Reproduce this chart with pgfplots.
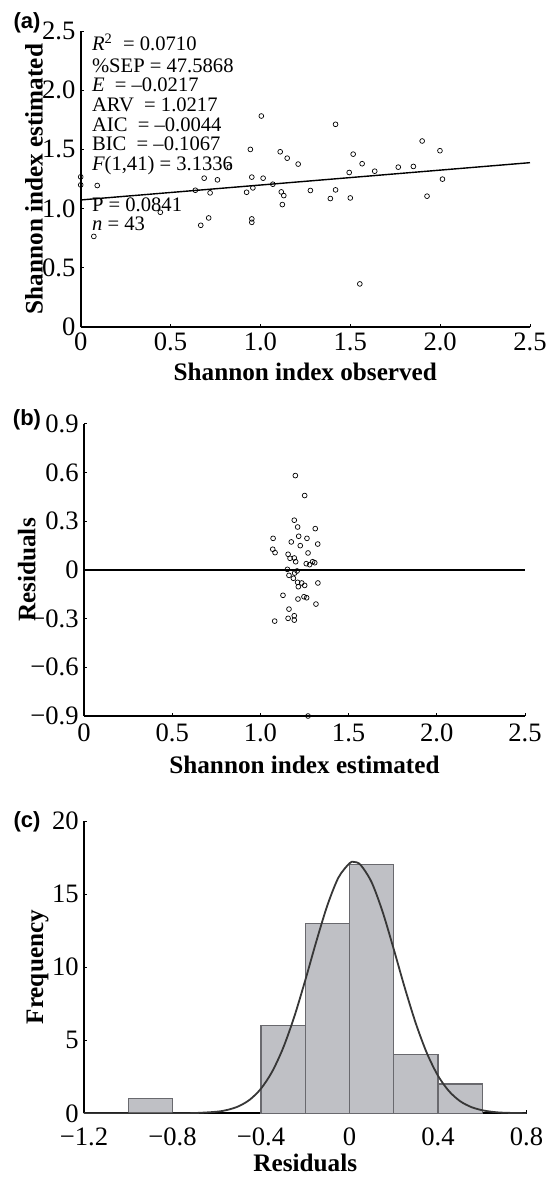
\documentclass[border=0pt]{standalone}
\usepackage{fontspec}
\setmainfont{Liberation Serif}
\newfontfamily\panelfont{Liberation Sans}
\usepackage{pgfplots}
\pgfplotsset{compat=1.18}
\usepackage{pgfplotstable}

\definecolor{barfill}{RGB}{191,192,197}
\definecolor{baredge}{RGB}{105,105,110}
\definecolor{curvecol}{RGB}{55,55,55}

\pgfplotstableread{
x y
0.000 1.268
0.000 1.200
0.092 1.195
0.073 0.765
0.443 0.969
0.638 1.155
0.687 1.257
0.668 0.859
0.712 0.921
0.720 1.133
0.761 1.243
0.827 1.350
0.923 1.138
0.944 1.500
0.952 1.266
0.958 1.175
0.952 0.913
0.952 0.884
1.005 1.782
1.015 1.257
1.069 1.206
1.110 1.480
1.149 1.426
1.116 1.141
1.130 1.110
1.122 1.034
1.210 1.376
1.278 1.153
1.389 1.085
1.418 1.158
1.418 1.712
1.494 1.305
1.500 1.090
1.516 1.460
1.566 1.379
1.553 0.364
1.636 1.316
1.767 1.350
1.851 1.356
1.900 1.571
1.927 1.105
1.999 1.489
2.013 1.249
}\obsest

\pgfplotstableread{
x y
1.198 0.582
1.251 0.459
1.192 0.307
1.211 0.265
1.311 0.255
1.072 0.195
1.217 0.208
1.264 0.195
1.175 0.173
1.226 0.150
1.325 0.160
1.070 0.128
1.083 0.107
1.270 0.105
1.157 0.097
1.168 0.072
1.192 0.074
1.200 0.051
1.260 0.039
1.279 0.033
1.296 0.051
1.308 0.045
1.153 0.004
1.208 -0.006
1.194 -0.019
1.162 -0.033
1.187 -0.051
1.211 -0.076
1.234 -0.080
1.215 -0.103
1.251 -0.095
1.326 -0.080
1.128 -0.156
1.213 -0.179
1.247 -0.165
1.262 -0.171
1.315 -0.210
1.162 -0.241
1.157 -0.298
1.192 -0.282
1.192 -0.309
1.081 -0.315
1.270 -0.900
}\resid

\pgfplotsset{
  myaxis/.style={
    scale only axis,
    anchor=south west,
    axis x line*=bottom, axis y line*=left,
    axis line style={line width=0.9pt,-},
    tick align=inside,
    major tick length=1.5pt,
    tick style={line width=0.5pt, black},
    tick label style={font=\fontsize{13.3}{15}\selectfont},
    yticklabel style={inner sep=0pt, xshift=-2.5pt},
    label style={font=\fontsize{12.6}{14}\selectfont\bfseries},
    xlabel style={at={(axis description cs:0.5,0)}, anchor=center},
    clip=false,
  }
}

\begin{document}
\begin{tikzpicture}
% ---------------- (a)
\begin{axis}[myaxis, at={(40.35pt,-163.5pt)}, width=224.65pt, height=148pt,
  xmin=0, xmax=2.5, ymin=0, ymax=2.5,
  xticklabel style={inner sep=0pt, yshift=-2.9pt},
  xtick={0,0.5,1,1.5,2,2.5}, xticklabels={0,0.5,1.0,1.5,2.0,2.5},
  ytick={0,0.5,1,1.5,2,2.5}, yticklabels={0,0.5,1.0,1.5,2.0,2.5},
  xlabel={Shannon index observed}, ylabel={Shannon index estimated},
  xlabel style={yshift=-22.5pt},
  ylabel style={at={(axis description cs:-0.104,0.5)}, anchor=center}]
\addplot[black, line width=0.7pt] coordinates {(0,1.073) (2.5,1.388)};
\addplot[only marks, mark=o, mark size=1.2pt, mark options={line width=0.35pt, black}] table[x=x,y=y] {\obsest};
\begin{scope}[every node/.style={anchor=mid west, inner sep=0pt, font=\fontsize{10.3}{10}\selectfont}]
\node at (axis cs:0.061,2.372) {{\itshape R}\textsuperscript{2}\ \ = 0.0710};
\node at (axis cs:0.061,2.192) {\%SEP = 47.5868};
\node at (axis cs:0.061,2.030) {{\itshape E}\ \ = –0.0217};
\node at (axis cs:0.061,1.862) {ARV\ \ = 1.0217};
\node at (axis cs:0.061,1.693) {AIC\ \ = –0.0044};
\node at (axis cs:0.061,1.532) {BIC\ \ = –0.1067};
\node at (axis cs:0.061,1.363) {{\itshape F}(1,41) = 3.1336};
\node at (axis cs:0.061,1.017) {P = 0.0841};
\node at (axis cs:0.061,0.856) {{\itshape n} = 43};
\end{scope}
\end{axis}
% ---------------- (b)
\begin{axis}[myaxis, at={(42pt,-358pt)}, width=220.5pt, height=146pt,
  xmin=0, xmax=2.5, ymin=-0.9, ymax=0.9,
  xticklabel style={inner sep=0pt, yshift=-3.9pt},
  xtick={0,0.5,1,1.5,2,2.5}, xticklabels={0,0.5,1.0,1.5,2.0,2.5},
  ytick={-0.9,-0.6,-0.3,0,0.3,0.6,0.9}, yticklabels={−0.9,−0.6,−0.3,0,0.3,0.6,0.9},
  xlabel={Shannon index estimated}, ylabel={Residuals},
  xlabel style={yshift=-24.5pt},
  ylabel style={at={(axis description cs:-0.13,0.5)}, anchor=center}]
\addplot[black, line width=0.8pt] coordinates {(0,0) (2.5,0)};
\addplot[only marks, mark=o, mark size=1.2pt, mark options={line width=0.35pt, black}] table[x=x,y=y] {\resid};
\end{axis}
% ---------------- (c)
\begin{axis}[myaxis, at={(42pt,-556.65pt)}, width=221.25pt, height=146.15pt,
  xmin=-1.2, xmax=0.8, ymin=0, ymax=20, clip=true,
  xticklabel style={inner sep=0pt, yshift=-7pt},
  xtick={-1.2,-0.8,-0.4,0,0.4,0.8}, xticklabels={−1.2,−0.8,−0.4,0,0.4,0.8},
  ytick={0,5,10,15,20}, yticklabels={0,5,10,15,20},
  xlabel={Residuals}, ylabel={Frequency},
  xlabel style={yshift=-25pt},
  ylabel style={at={(axis description cs:-0.105,0.5)}, anchor=center}]
\addplot[ybar interval, fill=barfill, draw=baredge, line width=0.6pt] coordinates {(-1.0,1) (-0.8,1)};
\addplot[ybar interval, fill=barfill, draw=baredge, line width=0.6pt] coordinates {(-0.4,6) (-0.2,13) (0,17) (0.2,4) (0.4,2) (0.6,2)};
\addplot[curvecol, line width=0.9pt, smooth] coordinates {
(-1.2,0) (-1.0,0) (-0.8,0.0025) (-0.7,0.019) (-0.6,0.11) (-0.55,0.24) (-0.5,0.49)
(-0.45,0.94) (-0.4,1.69) (-0.35,2.84) (-0.3,4.47) (-0.25,6.59) (-0.2,9.10)
(-0.15,11.76) (-0.1,14.23) (-0.05,16.13) (0,17.11) (0.02,17.2) (0.05,17.0)
(0.1,15.81) (0.15,13.77) (0.2,11.23) (0.25,8.58) (0.3,6.14) (0.35,4.11)
(0.4,2.57) (0.45,1.51) (0.5,0.83) (0.55,0.43) (0.6,0.21) (0.65,0.093)
(0.7,0.039) (0.8,0.006)};
\end{axis}
% panel labels
\node[font=\panelfont\bfseries\fontsize{11}{13}\selectfont] at (13.5pt,-11.65pt) {(a)};
\node[font=\panelfont\bfseries\fontsize{11}{13}\selectfont] at (13.5pt,-210pt) {(b)};
\node[font=\panelfont\bfseries\fontsize{11}{13}\selectfont] at (13.5pt,-410.85pt) {(c)};
\pgfresetboundingbox
\useasboundingbox (0,0) rectangle (274.5pt,-589pt);
\end{tikzpicture}
\end{document}
